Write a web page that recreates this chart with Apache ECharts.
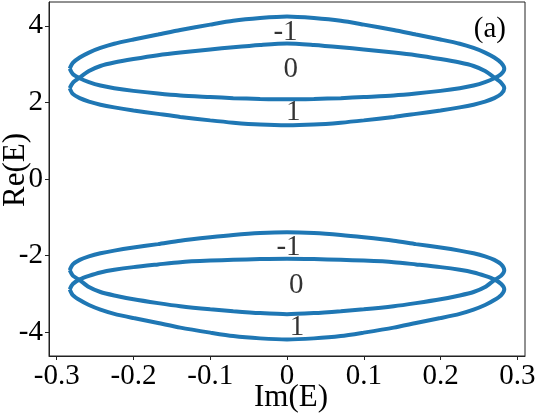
<!DOCTYPE html>
<html>
<head>
<meta charset="utf-8">
<script src="https://cdn.jsdelivr.net/npm/echarts@6/dist/echarts.min.js"></script>
<style>html,body{margin:0;padding:0;background:#fff;}#c{width:546px;height:415px;}</style>
</head>
<body>
<div id="c"></div>
<script>
// Im(E) sample positions shared by all arcs (left extreme -> right extreme)
const imSamples = [-0.283, -0.279, -0.270, -0.258, -0.243, -0.225, -0.200, -0.168, -0.139, -0.100, -0.070, -0.035, 0,
                   0.035, 0.070, 0.100, 0.139, 0.168, 0.200, 0.225, 0.243, 0.258, 0.270, 0.279, 0.283];
// Upper group, outer-top loop
const upperA_top = [2.88, 3.03, 3.17, 3.30, 3.42, 3.53, 3.64, 3.77, 3.89, 4.03, 4.13, 4.20, 4.24,
                    4.20, 4.13, 4.03, 3.89, 3.77, 3.64, 3.53, 3.42, 3.30, 3.17, 3.03, 2.88];
const upperA_bot = [2.88, 2.74, 2.63, 2.53, 2.44, 2.37, 2.30, 2.23, 2.18, 2.14, 2.11, 2.09, 2.08,
                    2.09, 2.11, 2.14, 2.18, 2.23, 2.30, 2.37, 2.44, 2.53, 2.63, 2.74, 2.88];
// Upper group, lower loop
const upperB_top = [2.37, 2.51, 2.65, 2.82, 2.95, 3.04, 3.13, 3.23, 3.30, 3.38, 3.44, 3.50, 3.54,
                    3.50, 3.44, 3.38, 3.30, 3.23, 3.13, 3.04, 2.95, 2.82, 2.65, 2.51, 2.37];
const upperB_bot = [2.37, 2.22, 2.11, 2.02, 1.94, 1.87, 1.79, 1.70, 1.62, 1.53, 1.47, 1.42, 1.40,
                    1.42, 1.47, 1.53, 1.62, 1.70, 1.79, 1.87, 1.94, 2.02, 2.11, 2.22, 2.37];
// Lower group, upper loop
const lowerC_top = [-2.38, -2.23, -2.11, -2.02, -1.94, -1.87, -1.79, -1.70, -1.61, -1.52, -1.46, -1.41, -1.39,
                    -1.41, -1.46, -1.52, -1.61, -1.70, -1.79, -1.87, -1.94, -2.02, -2.11, -2.23, -2.38];
const lowerC_bot = [-2.38, -2.52, -2.64, -2.82, -2.95, -3.04, -3.14, -3.24, -3.32, -3.40, -3.45, -3.50, -3.53,
                    -3.50, -3.45, -3.40, -3.32, -3.24, -3.14, -3.04, -2.95, -2.82, -2.64, -2.52, -2.38];
// Lower group, lower loop
const lowerD_top = [-2.88, -2.74, -2.62, -2.53, -2.44, -2.37, -2.30, -2.23, -2.17, -2.13, -2.11, -2.09, -2.08,
                    -2.09, -2.11, -2.13, -2.17, -2.23, -2.30, -2.37, -2.44, -2.53, -2.62, -2.74, -2.88];
const lowerD_bot = [-2.88, -3.03, -3.16, -3.29, -3.41, -3.52, -3.63, -3.76, -3.88, -4.01, -4.10, -4.16, -4.19,
                    -4.16, -4.10, -4.01, -3.88, -3.76, -3.63, -3.52, -3.41, -3.29, -3.16, -3.03, -2.88];
// Curve labels
const labelIm = [-0.002, 0.005, 0.008, 0.002, 0.012, 0.013];
const labelRe = [3.82, 2.85, 1.73, -1.78, -2.77, -3.87];
const labelText = ['-1', '0', '1', '-1', '0', '1'];
// Axis ticks
const xTicks = [-0.3, -0.2, -0.1, 0, 0.1, 0.2, 0.3];
const yTicks = [-4, -2, 0, 2, 4];

function loop(top, bot) {
  const pts = imSamples.map((x, i) => [x, top[i]]);
  for (let i = imSamples.length - 1; i >= 0; i--) pts.push([imSamples[i], bot[i]]);
  return pts;
}
const loops = [
  loop(upperA_top, upperA_bot), loop(upperB_top, upperB_bot),
  loop(lowerC_top, lowerC_bot), loop(lowerD_top, lowerD_bot)
];
const FONT = 'Liberation Serif';
const chart = echarts.init(document.getElementById('c'), null, {renderer: 'canvas'});
const lineSeries = loops.map(d => ({
  type: 'line', data: d, smooth: 0.25, showSymbol: false, symbol: 'none',
  lineStyle: {color: '#1f77b4', width: 4}, animation: false, silent: true
}));
const labelSeries = {
  type: 'scatter', symbolSize: 0, animation: false, silent: true, z: 10,
  data: labelIm.map((x, i) => ({value: [x, labelRe[i]], name: labelText[i]})),
  label: {show: true, position: 'inside', formatter: p => p.name, color: '#000',
          fontFamily: FONT, fontSize: 29}
};
chart.setOption({
  backgroundColor: '#fff',
  animation: false,
  title: {text: '(a)', right: 40, top: 15, padding: 0,
          textStyle: {fontFamily: FONT, fontSize: 29, fontWeight: 'normal', color: '#000'}},
  grid: {left: 49, right: 21, top: 2, bottom: 59, show: true, borderColor: '#222', borderWidth: 1,
         containLabel: false, outerBoundsMode: 'none'},
  xAxis: {
    type: 'value', min: -0.31, max: 0.31,
    name: 'Im(E)', nameLocation: 'middle', nameGap: 26, nameMoveOverlap: false,
    nameTextStyle: {fontFamily: FONT, fontSize: 31, color: '#000', padding: [0, 0, 0, 8]},
    axisLine: {show: true, onZero: false, lineStyle: {color: '#222', width: 1}},
    axisTick: {show: true, length: 4, customValues: xTicks, lineStyle: {color: '#222'}},
    axisLabel: {customValues: xTicks, formatter: v => String(v), margin: 6,
                fontFamily: FONT, fontSize: 29, color: '#000'},
    splitLine: {show: false}
  },
  yAxis: {
    type: 'value', min: -4.62, max: 4.62,
    name: 'Re(E)', nameLocation: 'middle', nameGap: 18, nameMoveOverlap: false,
    nameTextStyle: {fontFamily: FONT, fontSize: 31, color: '#000', padding: [0, 0, 0, 18]},
    axisLine: {show: true, onZero: false, lineStyle: {color: '#222', width: 1}},
    axisTick: {show: true, length: 4, customValues: yTicks, lineStyle: {color: '#222'}},
    axisLabel: {customValues: yTicks, formatter: v => String(v), margin: 6,
                fontFamily: FONT, fontSize: 29, color: '#000'},
    splitLine: {show: false}
  },
  series: lineSeries.concat([labelSeries])
});
</script>
</body>
</html>
